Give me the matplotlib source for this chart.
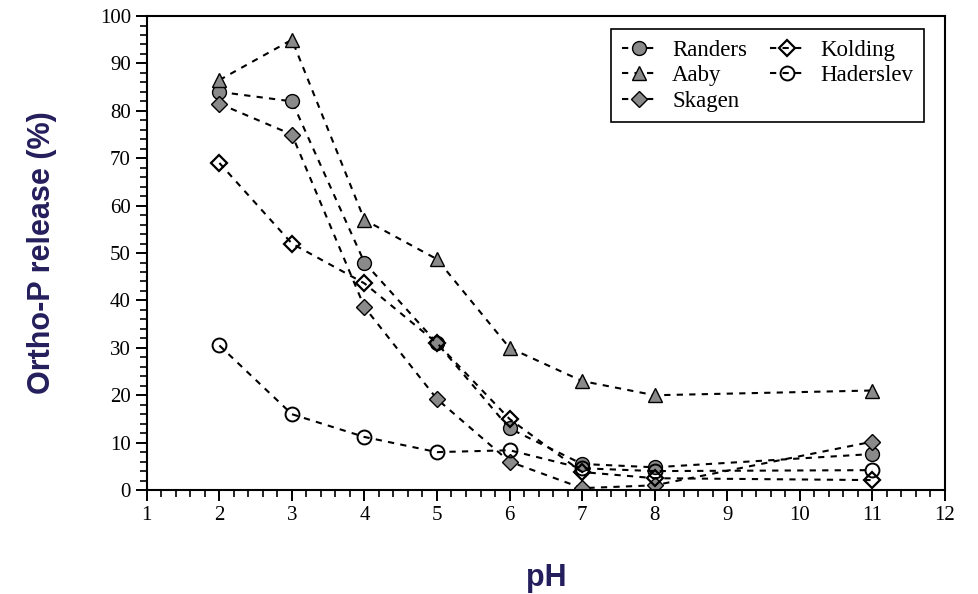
import matplotlib
matplotlib.use("Agg")
import matplotlib.pyplot as plt
from matplotlib.ticker import MultipleLocator

ph = [2, 3, 4, 5, 6, 7, 8, 11]

randers = [84, 82, 48, 31, 13, 5.5, 4.8, 7.6]
aaby = [86.5, 95, 57, 48.7, 30, 23, 20, 21]
skagen = [81.5, 75, 38.6, 19.2, 6, 0.4, 1, 10.2]
kolding = [69, 52, 43.6, 31, 15, 3.8, 2.5, 2.1]
haderslev = [30.5, 16, 11.2, 8, 8.4, 4.6, 4, 4.2]

GRAY = "#8a8a8a"
NAVY = "#241f5c"
SERIF = "Liberation Serif"

fig = plt.figure(figsize=(9.79, 5.94), dpi=100)
ax = fig.add_axes([0.150, 0.175, 0.815, 0.798])

common = dict(linestyle="--", color="black", linewidth=1.5, markersize=10,
              markeredgecolor="black", markeredgewidth=1.0, dashes=(3, 3))
ax.plot(ph, randers, marker="o", markerfacecolor=GRAY, label="Randers", **common)
ax.plot(ph, aaby, marker="^", markerfacecolor=GRAY, label="Aaby", **common)
ax.plot(ph, skagen, marker="D", markerfacecolor=GRAY, label="Skagen",
        **{**common, "markersize": 8.5})
ax.plot(ph, kolding, marker="D", markerfacecolor="none", label="Kolding",
        **{**common, "markersize": 8, "markeredgewidth": 1.6})
ax.plot(ph, haderslev, marker="o", markerfacecolor="none", label="Haderslev",
        **{**common, "markeredgewidth": 1.4})

ax.set_xlim(1, 12)
ax.set_ylim(0, 100)
ax.xaxis.set_major_locator(MultipleLocator(1))
ax.xaxis.set_minor_locator(MultipleLocator(0.2))
ax.yaxis.set_major_locator(MultipleLocator(10))
ax.yaxis.set_minor_locator(MultipleLocator(2))
ax.tick_params(which="major", direction="out", length=8, width=1.4, labelsize=15)
ax.tick_params(which="minor", direction="out", length=5, width=1.2)
for lab in ax.get_xticklabels() + ax.get_yticklabels():
    lab.set_fontfamily(SERIF)
for sp in ax.spines.values():
    sp.set_linewidth(1.5)

ax.set_xlabel("pH", fontsize=22, fontweight="bold", color=NAVY,
              family="Liberation Sans", labelpad=27)
ax.set_ylabel("Ortho-P release (%)", fontsize=22, fontweight="bold", color=NAVY,
              family="Liberation Sans", labelpad=31)

leg = ax.legend(loc="upper right", ncol=2, fancybox=False, edgecolor="black",
                handlelength=1.5, handletextpad=0.7, columnspacing=1.0,
                labelspacing=0.2, borderpad=0.45, framealpha=1,
                prop={"family": SERIF, "size": 16.5}, bbox_to_anchor=(0.988, 0.996))
leg.get_frame().set_linewidth(1.2)

fig.savefig("out.png", dpi=100)
